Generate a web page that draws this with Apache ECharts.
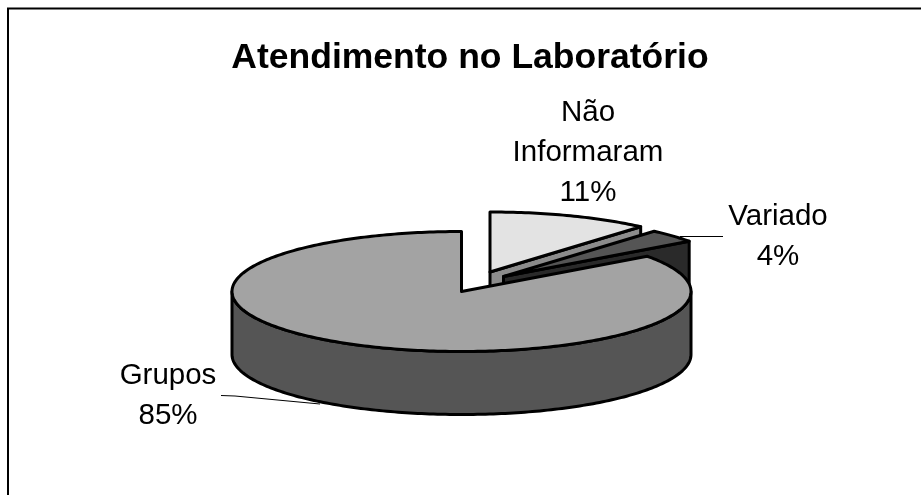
<!DOCTYPE html>
<html>
<head>
<meta charset="utf-8">
<style>html,body{margin:0;padding:0;background:#fff}#c{width:921px;height:495px}</style>
<script src="https://cdn.jsdelivr.net/npm/echarts@6/dist/echarts.min.js"></script>
</head>
<body>
<div id="c"></div>
<script>
const titleText = 'Atendimento no Laboratório';
const categories = ['Não\nInformaram', 'Variado', 'Grupos'];
const values = [11.4, 3.6, 85];

const FONT = '"Liberation Sans", Arial, sans-serif';
const pie = { cx: 461.5, cy: 291.5, rx: 229.5, ry: 60, depth: 63 };
const explode = [[28.5, -19.5], [42, -15], [0, 0]];
const topFill = ['#e3e3e3', '#555555', '#a3a3a3'];
const sideFill = ['#8c8c8c', '#2a2a2a', '#555555'];
const labelPos = [[588, 93], [778, 196.5], [168, 355.5]];
const leaders = [null, [[680, 236.5], [723, 236.5]], [[221, 395.5], [235, 396], [320, 404]]];

const total = values.reduce((a, b) => a + b, 0);

function arc(c, a0, a1, dz) {
  const out = [];
  const n = Math.max(2, Math.ceil(Math.abs(a1 - a0)));
  for (let i = 0; i <= n; i++) {
    const t = (a0 + (a1 - a0) * i / n) * Math.PI / 180;
    out.push([c[0] + pie.rx * Math.sin(t), c[1] - pie.ry * Math.cos(t) + dz]);
  }
  return out;
}
const edge = { stroke: '#000', lineWidth: 3, lineJoin: 'round' };

function renderItem(params, api) {
  const i = params.dataIndex;
  const v = api.value(0);
  let before = 0;
  for (let k = 0; k < i; k++) before += values[k];
  const a0 = before / total * 360, a1 = (before + v) / total * 360;
  const c = [pie.cx + explode[i][0], pie.cy + explode[i][1]];
  const kids = [];
  const poly = (pts, fill) => kids.push({
    type: 'polygon', shape: { points: pts }, style: Object.assign({ fill }, edge)
  });

  if (leaders[i]) {
    kids.push({ type: 'polyline', shape: { points: leaders[i] }, style: { stroke: '#000', lineWidth: 1, fill: null } });
  }
  // radial cut face that looks toward the viewer
  if (a1 < 180) {
    const e = arc(c, a1, a1, 0)[0];
    poly([c, e, [e[0], e[1] + pie.depth], [c[0], c[1] + pie.depth]], sideFill[i]);
  }
  // outer wall: only the front half of the rim is visible
  const w0 = Math.max(a0, 90), w1 = Math.min(a1, 270);
  if (w1 > w0) {
    poly(arc(c, w0, w1, 0).concat(arc(c, w1, w0, pie.depth)), sideFill[i]);
  }
  // top face
  poly([c].concat(arc(c, a0, a1, 0)), topFill[i]);

  const pct = Math.round(v / total * 100) + '%';
  kids.push({
    type: 'text',
    style: {
      text: categories[i] + '\n' + pct,
      x: labelPos[i][0], y: labelPos[i][1],
      align: 'center', verticalAlign: 'top',
      font: '29.5px ' + FONT, lineHeight: 40, fill: '#000'
    }
  });
  return { type: 'group', children: kids };
}

const chart = echarts.init(document.getElementById('c'), null, { renderer: 'canvas' });
chart.setOption({
  animation: false,
  backgroundColor: '#fff',
  title: {
    text: titleText, left: 465, top: 35, textAlign: 'center',
    textStyle: { fontFamily: FONT, fontSize: 35.5, fontWeight: 'bold', color: '#000' }
  },
  graphic: [{
    type: 'polyline', silent: true,
    shape: { points: [[8, 495], [8, 8.5], [921, 8.5]] },
    style: { stroke: '#000', lineWidth: 2, fill: null }
  }],
  series: [{
    type: 'custom',
    coordinateSystem: 'none',
    renderItem,
    data: values.map((v, i) => ({ name: categories[i], value: [v] }))
  }]
});
</script>
</body>
</html>
